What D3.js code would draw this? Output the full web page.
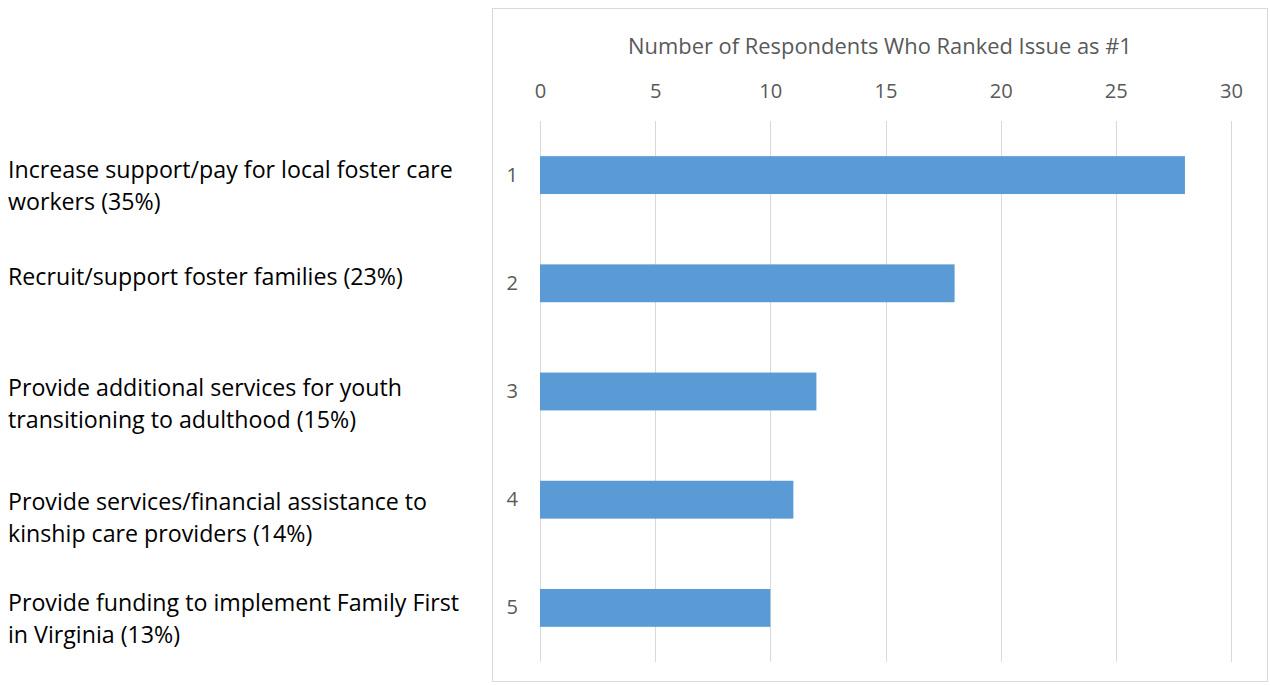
<!DOCTYPE html>
<html lang="en">
  <head>
    <meta charset="utf-8" />
    <title>Ranked issues</title>
    <style>
      body { margin: 0; background: #fff; }
      svg text { font-family: "Open Sans", Lato, sans-serif; }
    </style>
  </head>
  <body>
    <script src="https://d3js.org/d3.v7.min.js"></script>
    <div id="chart"></div>
    <script>
      // data
      const ranks = ["1", "2", "3", "4", "5"];
      const counts = [28, 18, 12, 11, 10];
      const issueLabels = [
        ["Increase support/pay for local foster care", "workers (35%)"],
        ["Recruit/support foster families (23%)"],
        ["Provide additional services for youth", "transitioning to adulthood (15%)"],
        ["Provide services/financial assistance to", "kinship care providers (14%)"],
        ["Provide funding to implement Family First", "in Virginia (13%)"]
      ];
      const xTicks = [0, 5, 10, 15, 20, 25, 30];
      const axisTitle = "Number of Respondents Who Ranked Issue as #1";

      // where each description's first line sits (text boxes are free-floating)
      const labelY = [170, 277, 388, 502, 603];

      const W = 1270, H = 685;
      const svg = d3.select("#chart").append("svg")
        .attr("width", W).attr("height", H);

      // shrink/grow a font so a string hits a target width
      const fitSize = (str, target) => {
        const t = svg.append("text").style("font-size", "20px").text(str);
        const w = t.node().getComputedTextLength();
        t.remove();
        return 20 * target / w;
      };

      // chart frame
      svg.append("rect")
        .attr("x", 492.5).attr("y", 8.5)
        .attr("width", 775).attr("height", 673)
        .attr("fill", "#fff").attr("stroke", "#d9d9d9");

      const x = d3.scaleLinear().domain([0, 30]).range([540, 1231]);
      const y = d3.scaleBand().domain(ranks).range([121, 662]).paddingInner(0.65).paddingOuter(0.325);

      // gridlines
      svg.append("g").selectAll("line").data(xTicks).join("line")
        .attr("x1", d => Math.round(x(d)) + 0.5).attr("x2", d => Math.round(x(d)) + 0.5)
        .attr("y1", 121).attr("y2", 662)
        .attr("stroke", "#d9d9d9").attr("stroke-width", 1);

      const tickSize = fitSize("10", 23);

      // top axis tick labels
      const xAxis = svg.append("g")
        .attr("transform", "translate(0,91)")
        .call(d3.axisTop(x).tickValues(xTicks).tickSize(0).tickPadding(0));
      xAxis.select(".domain").remove();
      xAxis.selectAll("text")
        .attr("dy", "0.35em")
        .attr("fill", "#595959").style("font-size", tickSize + "px");

      svg.append("text")
        .attr("x", 880).attr("y", 46).attr("dy", "0.35em")
        .attr("text-anchor", "middle")
        .attr("fill", "#595959").style("font-size", fitSize(axisTitle, 504) + "px")
        .text(axisTitle);

      // bars
      svg.append("g").selectAll("rect").data(counts).join("rect")
        .attr("x", x(0))
        .attr("y", (d, i) => y(ranks[i]))
        .attr("width", d => x(d) - x(0))
        .attr("height", y.bandwidth())
        .attr("fill", "#5b9bd5");

      // rank labels
      const yAxis = svg.append("g")
        .attr("transform", "translate(518,0)")
        .call(d3.axisLeft(y).tickSize(0).tickPadding(0));
      yAxis.select(".domain").remove();
      yAxis.selectAll("text")
        .attr("fill", "#595959").style("font-size", tickSize + "px");

      // issue descriptions on the left
      const lineH = 32;
      const descSize = fitSize(issueLabels[0][0], 445);
      issueLabels.forEach((lines, i) => {
        const t = svg.append("text")
          .attr("fill", "#000")
          .style("font-size", descSize + "px");
        lines.forEach((s, j) => {
          t.append("tspan")
            .attr("x", 8)
            .attr("y", labelY[i] + j * lineH)
            .attr("dy", "0.35em")
            .text(s);
        });
      });
    </script>
  </body>
</html>
